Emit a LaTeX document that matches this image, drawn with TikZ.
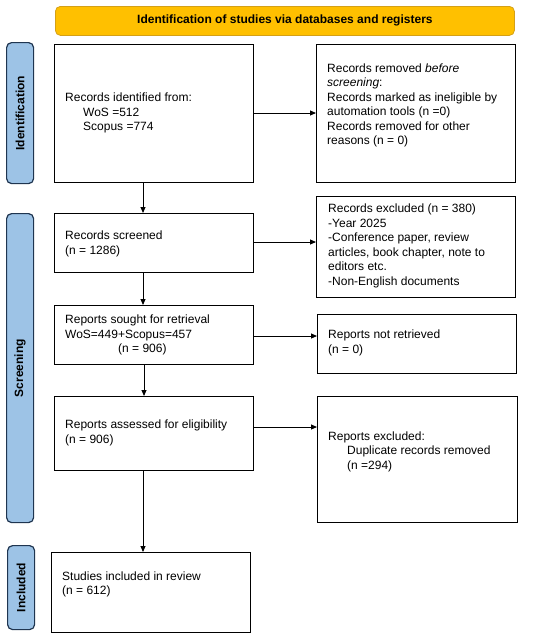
\documentclass[tikz,border=0pt]{standalone}
\usepackage{fontspec}
\setmainfont{Liberation Sans}
\usetikzlibrary{arrows.meta}
\definecolor{bannerfill}{HTML}{FFC000}
\definecolor{bannerdraw}{HTML}{D4A017}
\definecolor{sidefill}{HTML}{9DC3E6}
\definecolor{sidedraw}{HTML}{1F3550}
\tikzset{
  box/.style={draw=black, line width=0.9pt, fill=white, inner sep=0pt, anchor=north west},
  txt/.style={inner sep=0pt, anchor=west, align=left, font=\fontsize{12}{14.5}\selectfont},
  banner/.style={draw=bannerdraw, fill=bannerfill, rounded corners=5pt, line width=0.8pt, inner sep=0pt, anchor=north west, font=\bfseries\fontsize{12}{14.5}\selectfont},
  side/.style={draw=sidedraw, fill=sidefill, rounded corners=5pt, line width=1.2pt, inner sep=0pt, anchor=north west},
  sidetxt/.style={rotate=90, inner sep=0pt, font=\bfseries\fontsize{12}{14.5}\selectfont},
  arr/.style={-{Triangle[length=6pt,width=5pt]}, line width=0.9pt}
}
\begin{document}
\begin{tikzpicture}[x=1pt,y=-1pt]
\useasboundingbox (0,0) rectangle (550,637);
% banner
\node[banner, minimum width=459pt, minimum height=29pt] (ban) at (55,6) {Identification of studies via databases and registers};
% side labels
\node[side, minimum width=27pt, minimum height=141pt] (sid1) at (6,42) {};
\node[sidetxt] (sid1t) at (sid1.center) {Identification};
\node[side, minimum width=27pt, minimum height=309pt] (sid2) at (6,213) {};
\node[sidetxt] (sid2t) at (sid2.center) {Screening};
\node[side, minimum width=27pt, minimum height=84pt] (sid3) at (7,545) {};
\node[sidetxt] (sid3t) at (sid3.center) {Included};
% left boxes
\node[box, minimum width=199pt, minimum height=138pt] (b1) at (54,44) {};
\node[txt] (b1t) at (65,113) {Records identified from:\\\hspace{18pt}WoS =512\\\hspace{18pt}Scopus =774};
\node[box, minimum width=199pt, minimum height=59pt] (b2) at (54,213) {};
\node[txt] (b2t) at (65,244) {Records screened\\(n = 1286)};
\node[box, minimum width=199pt, minimum height=59pt] (b3) at (54,305) {};
\node[txt] (b3t) at (65,335) {Reports sought for retrieval\\WoS=449+Scopus=457\\\hspace{53pt}(n = 906)};
\node[box, minimum width=199pt, minimum height=74pt] (b4) at (54,396) {};
\node[txt] (b4t) at (65,433) {Reports assessed for eligibility\\(n = 906)};
\node[box, minimum width=199pt, minimum height=80pt] (b5) at (51,552) {};
\node[txt] (b5t) at (62,584.5) {Studies included in review\\(n = 612)};
% right boxes
\node[box, minimum width=199pt, minimum height=138pt] (r1) at (316,44) {};
\node[txt] (r1t) at (327,105.5) {Records removed \textit{before}\\\textit{screening}:\\Records marked as ineligible by\\automation tools (n =0)\\Records removed for other\\reasons (n = 0)};
\node[box, minimum width=199pt, minimum height=101pt] (r2) at (316,196) {};
\node[txt] (r2t) at (328,246) {Records excluded (n = 380)\\-Year 2025\\-Conference paper, review\\articles, book chapter, note to\\editors etc.\\-Non-English documents};
\node[box, minimum width=199pt, minimum height=59pt] (r3) at (317,314) {};
\node[txt] (r3t) at (328,343) {Reports not retrieved\\(n = 0)};
\node[box, minimum width=200pt, minimum height=126pt] (r4) at (317,396) {};
\node[txt] (r4t) at (328,451.5) {Reports excluded:\\\hspace{19pt}Duplicate records removed\\\hspace{19pt}(n =294)};
% vertical arrows
\draw[arr] (b1.south -| 143,0) -- (b2.north -| 143,0);
\draw[arr] (b2.south -| 143,0) -- (b3.north -| 143,0);
\draw[arr] (b3.south -| 144,0) -- (b4.north -| 144,0);
\draw[arr] (b4.south -| 143,0) -- (b5.north -| 143,0);
% horizontal arrows
\draw[arr] (b1.east |- 0,113) -- (r1.west |- 0,113);
\draw[arr] (b2.east |- 0,242) -- (r2.west |- 0,242);
\draw[arr] (b3.east |- 0,336) -- (r3.west |- 0,336);
\draw[arr] (b4.east |- 0,427) -- (r4.west |- 0,427);
\end{tikzpicture}
\end{document}
